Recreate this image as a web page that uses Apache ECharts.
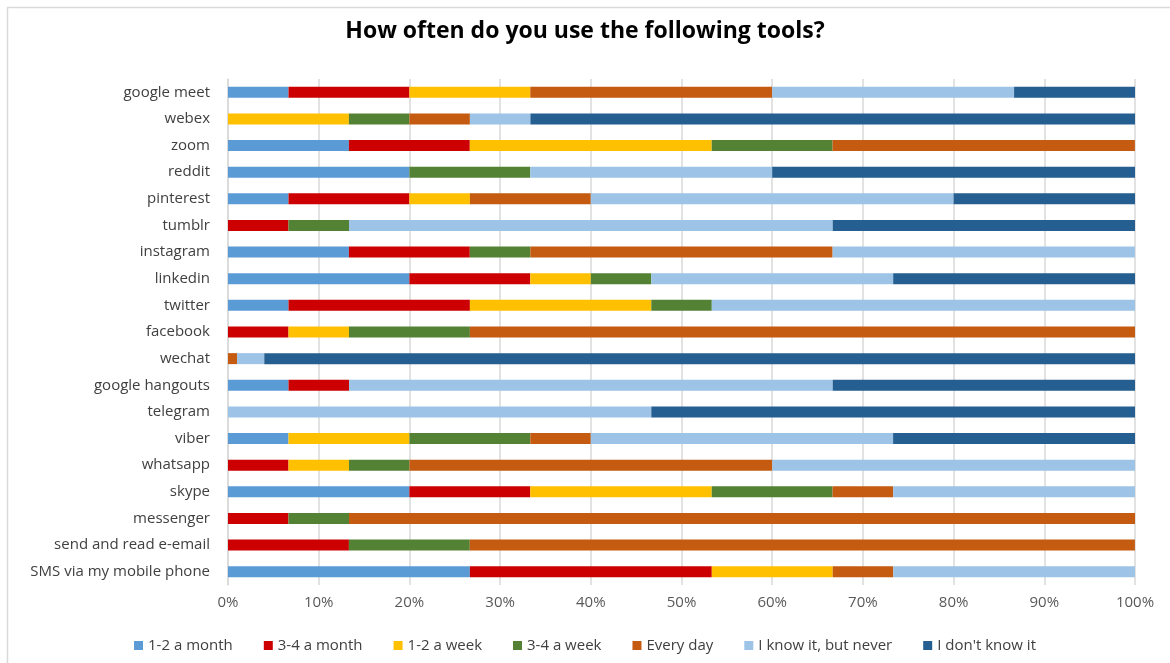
<!DOCTYPE html>
<html>
<head>
<meta charset="utf-8">
<script src="https://cdn.jsdelivr.net/npm/echarts@6/dist/echarts.min.js"></script>
<style>
  html, body { margin: 0; padding: 0; background: #ffffff; }
  #chart { width: 1170px; height: 663px; }
</style>
</head>
<body>
<div id="chart"></div>
<script>
// Tools, listed bottom-to-top as the category axis draws them
const tools = [
  'SMS via my mobile phone', 'send and read e-email', 'messenger', 'skype', 'whatsapp',
  'viber', 'telegram', 'google hangouts', 'wechat', 'facebook', 'twitter', 'linkedin',
  'instagram', 'tumblr', 'pinterest', 'reddit', 'zoom', 'webex', 'google meet'
];

// Share of respondents (%) per answer, same order as tools
const monthly12 = [26.67, 0, 0, 20, 0, 6.67, 0, 6.67, 0, 0, 6.67, 20, 13.33, 0, 6.67, 20, 13.33, 0, 6.67];
const monthly34 = [26.67, 13.33, 6.67, 13.33, 6.67, 0, 0, 6.67, 0, 6.67, 20, 13.33, 13.33, 6.67, 13.33, 0, 13.33, 0, 13.33];
const weekly12  = [13.33, 0, 0, 20, 6.67, 13.33, 0, 0, 0, 6.67, 20, 6.67, 0, 0, 6.67, 0, 26.67, 13.33, 13.33];
const weekly34  = [0, 13.33, 6.67, 13.33, 6.67, 13.33, 0, 0, 0, 13.33, 6.67, 6.67, 6.67, 6.67, 0, 13.33, 13.33, 6.67, 0];
const everyDay  = [6.67, 73.33, 86.67, 6.67, 40, 6.67, 0, 0, 1, 73.33, 0, 0, 33.33, 0, 13.33, 0, 33.33, 6.67, 26.67];
const knowNever = [26.67, 0, 0, 26.67, 40, 33.33, 46.67, 53.33, 3, 0, 46.67, 26.67, 33.33, 53.33, 40, 26.67, 0, 6.67, 26.67];
const dontKnow  = [0, 0, 0, 0, 0, 26.67, 53.33, 33.33, 96, 0, 0, 26.67, 0, 33.33, 20, 40, 0, 66.67, 13.33];

const seriesNames = ['1-2 a month', '3-4 a month', '1-2 a week', '3-4 a week', 'Every day', 'I know it, but never', "I don't know it"];
const seriesValues = [monthly12, monthly34, weekly12, weekly34, everyDay, knowNever, dontKnow];
const seriesColors = ['#5B9BD5', '#CC0000', '#FFC000', '#548235', '#C55A11', '#9DC3E6', '#255E91'];

const xTicks = [0, 10, 20, 30, 40, 50, 60, 70, 80, 90, 100];

const FONT = 'Open Sans';

const chart = echarts.init(document.getElementById('chart'), null, { renderer: 'canvas' });

chart.setOption({
  backgroundColor: '#ffffff',
  animation: false,
  title: {
    text: 'How often do you use the following tools?',
    left: 'center',
    top: 15,
    textStyle: { fontFamily: FONT, fontWeight: 'bold', fontSize: 23, color: '#000000' }
  },
  graphic: [{
    type: 'rect',
    shape: { x: 7.5, y: 7.5, width: 1200, height: 700 },
    style: { fill: 'none', stroke: '#d9d9d9', lineWidth: 1.5 },
    silent: true,
    z: -1
  }],
  legend: {
    bottom: 5,
    left: 'center',
    itemWidth: 9,
    itemHeight: 9,
    itemGap: 31,
    icon: 'rect',
    textStyle: { fontFamily: FONT, fontSize: 15, color: '#404040' },
    data: seriesNames
  },
  grid: { left: 228, right: 35, top: 79, bottom: 78, containLabel: false },
  xAxis: {
    type: 'value',
    min: xTicks[0],
    max: xTicks[xTicks.length - 1],
    interval: 10,
    axisLine: { show: false },
    axisTick: { show: false },
    splitLine: { show: true, lineStyle: { color: '#d9d9d9', width: 1.5 } },
    axisLabel: {
      margin: 10,
      fontFamily: FONT,
      fontSize: 15,
      color: '#595959',
      formatter: v => v + '%'
    }
  },
  yAxis: {
    type: 'category',
    data: tools,
    axisLine: { show: true, lineStyle: { color: '#d9d9d9', width: 1.5 } },
    axisTick: { show: false },
    axisLabel: { margin: 18, fontFamily: FONT, fontSize: 15, color: '#404040' }
  },
  series: seriesNames.map((name, i) => ({
    name,
    type: 'bar',
    stack: 'share',
    barWidth: 11,
    data: seriesValues[i],
    itemStyle: { color: seriesColors[i] }
  }))
});
</script>
</body>
</html>
